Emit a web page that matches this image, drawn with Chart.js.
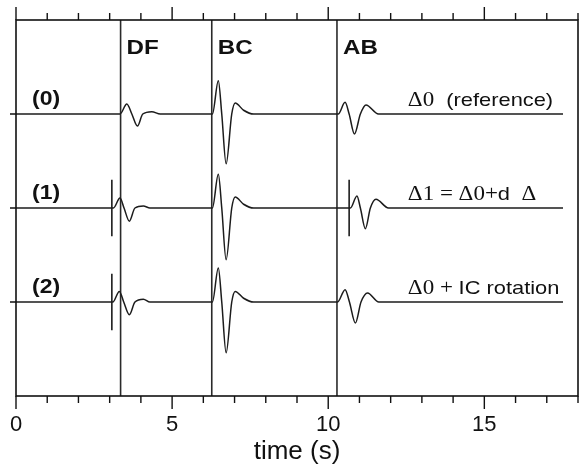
<!DOCTYPE html>
<html lang="en">
<head>
    <meta charset="UTF-8">
    <title>Seismograms</title>
    <style>
        html, body { margin: 0; padding: 0; background: #fff; }
        canvas { display: block; }
    </style>
</head>
<body>
    <canvas id="traces" width="579" height="468"></canvas>

    <script src="https://cdn.jsdelivr.net/npm/chart.js@4.4.1/dist/chart.umd.min.js"></script>
    <script>
        // x axis
        var tickLabels = [0, 5, 10, 15];

        // phase picks (s)
        var phaseNames = ['DF', 'BC', 'AB'];
        var phaseTimes = [3.35, 6.27, 10.28];

        // trace offsets and labels
        var traceNames = ['(0)', '(1)', '(2)'];
        var traceOffsets = [3, 2, 1];

        // trace (0): reference
        var trace0Time = [0, 3.33, 3.55, 3.71, 3.89, 4.06, 4.35, 4.62,
            6.29, 6.48, 6.59, 6.73, 6.91, 7.02, 7.29, 7.61,
            10.32, 10.54, 10.67, 10.84, 11.03, 11.21, 11.61, 17.52];
        var trace0Amp = [0, 0, 0.106, 0, -0.128, 0, 0.025, 0,
            0, 0.355, 0, -0.53, 0, 0.117, 0.04, 0,
            0, 0.124, 0, -0.213, 0, 0.096, 0, 0];

        // trace (1)
        var trace1Time = [0, 3.12, 3.33, 3.46, 3.63, 3.81, 4.08, 4.29,
            6.29, 6.48, 6.59, 6.73, 6.91, 7.02, 7.29, 7.61,
            10.71, 10.92, 11.03, 11.19, 11.35, 11.53, 11.93, 17.52];
        var trace1Amp = [0, 0, 0.106, 0, -0.14, 0, 0.02, 0,
            0, 0.358, 0, -0.55, 0, 0.117, 0.04, 0,
            0, 0.128, 0, -0.22, 0, 0.093, 0, 0];

        // trace (2)
        var trace2Time = [0, 3.10, 3.31, 3.45, 3.63, 3.81, 4.08, 4.29,
            6.29, 6.48, 6.59, 6.73, 6.91, 7.02, 7.29, 7.61,
            10.30, 10.54, 10.68, 10.87, 11.05, 11.26, 11.62, 17.52];
        var trace2Amp = [0, 0, 0.113, 0, -0.135, 0, 0.03, 0,
            0, 0.362, 0, -0.54, 0, 0.113, 0.04, 0,
            0, 0.131, 0, -0.223, 0, 0.096, 0, 0];

        // onset markers
        var marker1Times = [3.07, 10.67];
        var marker2Times = [3.07];
        var markerHalf = 0.3;

        var ink = '#1c1c1c';

        function tracePoints(times, amps, offset) {
            return times.map(function(t, i) {
                return { x: t, y: offset + amps[i] };
            });
        }

        var datasets = [];
        [[trace0Time, trace0Amp], [trace1Time, trace1Amp], [trace2Time, trace2Amp]].forEach(function(tr, i) {
            datasets.push({
                data: tracePoints(tr[0], tr[1], traceOffsets[i]),
                showLine: true,
                borderColor: ink,
                borderWidth: 1.5,
                pointRadius: 0,
                tension: 0.4,
                cubicInterpolationMode: 'monotone'
            });
        });

        [[marker1Times, traceOffsets[1]], [marker2Times, traceOffsets[2]]].forEach(function(m) {
            m[0].forEach(function(t) {
                datasets.push({
                    data: [{ x: t, y: m[1] - markerHalf }, { x: t, y: m[1] + markerHalf }],
                    showLine: true,
                    borderColor: ink,
                    borderWidth: 1.6,
                    pointRadius: 0
                });
            });
        });

        phaseTimes.forEach(function(t) {
            datasets.push({
                data: [{ x: t, y: 0 }, { x: t, y: 4 }],
                showLine: true,
                borderColor: '#2a2a2a',
                borderWidth: 1.6,
                pointRadius: 0
            });
        });

        // text drawn a little wider than the font, as in the figure
        function wideText(ctx, str, x, y, font, sx) {
            ctx.save();
            ctx.font = font;
            var w = ctx.measureText(str).width * sx;
            ctx.translate(x, y);
            ctx.scale(sx, 1);
            ctx.fillText(str, 0, 0);
            ctx.restore();
            return w;
        }

        var serif = '20px "Liberation Serif"';
        var sans = '19px "Liberation Sans"';
        var rightLabels = [
            [['Δ0', serif], ['  (reference)', sans]],
            [['Δ1 = Δ0+', serif], ['d', sans], ['  Δ', serif]],
            [['Δ0 + ', serif], ['IC rotation', sans]]
        ];

        var framePlugin = {
            id: 'frame',
            afterDraw: function(chart) {
                var ctx = chart.ctx;
                var area = chart.chartArea;
                var xs = chart.scales.x;
                var ys = chart.scales.y;

                ctx.save();
                ctx.strokeStyle = '#111';
                ctx.lineWidth = 1.6;
                ctx.strokeRect(area.left, area.top, area.right - area.left, area.bottom - area.top);

                // ticks on top and bottom
                ctx.lineWidth = 1.4;
                ctx.beginPath();
                xs.ticks.forEach(function(tk) {
                    var px = xs.getPixelForValue(tk.value);
                    var len = tk.value % 5 === 0 ? 13 : 7;
                    ctx.moveTo(px, area.bottom);
                    ctx.lineTo(px, area.bottom + len);
                    ctx.moveTo(px, area.top);
                    ctx.lineTo(px, area.top - len);
                });
                traceOffsets.forEach(function(v) {
                    var py = ys.getPixelForValue(v);
                    ctx.moveTo(area.left, py);
                    ctx.lineTo(area.left - 6, py);
                });
                ctx.stroke();

                ctx.fillStyle = '#111';
                ctx.textBaseline = 'alphabetic';

                phaseNames.forEach(function(name, i) {
                    var px = xs.getPixelForValue(phaseTimes[i]);
                    wideText(ctx, name, px + 6, area.top + 34, 'bold 21px "Liberation Sans"', 1.15);
                });

                traceNames.forEach(function(name, i) {
                    var py = ys.getPixelForValue(traceOffsets[i]);
                    wideText(ctx, name, area.left + 16, py - 9, 'bold 20px "Liberation Sans"', 1.15);
                });

                rightLabels.forEach(function(parts, i) {
                    var py = ys.getPixelForValue(traceOffsets[i]) - 8;
                    var px = xs.getPixelForValue(12.55);
                    parts.forEach(function(p) {
                        px += wideText(ctx, p[0], px, py, p[1], 1.15);
                    });
                });
                ctx.restore();
            }
        };

        new Chart(document.getElementById('traces'), {
            type: 'scatter',
            data: { datasets: datasets },
            options: {
                responsive: false,
                animation: false,
                devicePixelRatio: 1,
                layout: { padding: { left: 16, right: 1, top: 20, bottom: 0 } },
                plugins: {
                    legend: { display: false },
                    tooltip: { enabled: false }
                },
                scales: {
                    x: {
                        type: 'linear',
                        min: 0,
                        max: 18,
                        grid: {
                            display: true,
                            drawOnChartArea: false,
                            drawTicks: true,
                            tickLength: 16,
                            tickColor: 'rgba(0,0,0,0)'
                        },
                        border: { display: false },
                        ticks: {
                            stepSize: 1,
                            autoSkip: false,
                            maxRotation: 0,
                            padding: 0,
                            color: '#111',
                            font: { family: 'Liberation Sans', size: 22 },
                            callback: function(v) {
                                return tickLabels.indexOf(v) >= 0 ? String(v) : '';
                            }
                        },
                        title: {
                            display: true,
                            text: 'time (s)',
                            color: '#111',
                            font: { family: 'Liberation Sans', size: 26 },
                            padding: { top: 0, bottom: 1 }
                        },
                        afterFit: function(scale) { scale.height = 72; }
                    },
                    y: {
                        type: 'linear',
                        display: false,
                        min: 0,
                        max: 4
                    }
                }
            },
            plugins: [framePlugin]
        });
    </script>
</body>
</html>
